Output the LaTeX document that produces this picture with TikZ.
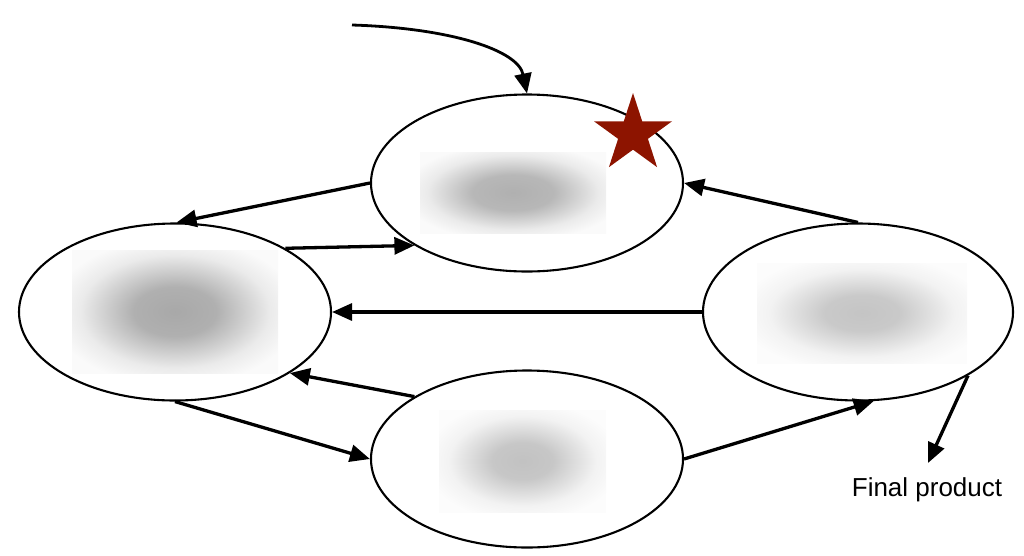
\documentclass[tikz,border=0pt]{standalone}
\usepackage{fontspec}
\setmainfont{Liberation Sans}
\usetikzlibrary{arrows.meta,shapes.geometric}
\definecolor{starred}{RGB}{141,20,0}
\pgfdeclareradialshading{blurTop}{\pgfpoint{0bp}{0bp}}{color(0bp)=(black!31); color(11bp)=(black!28); color(23bp)=(black!8); color(30bp)=(black!2); color(50bp)=(black!2)}
\pgfdeclareradialshading{blurLeft}{\pgfpoint{0bp}{0bp}}{color(0bp)=(black!34); color(10bp)=(black!31); color(23bp)=(black!8); color(30bp)=(black!2); color(50bp)=(black!2)}
\pgfdeclareradialshading{blurRight}{\pgfpoint{0bp}{0bp}}{color(0bp)=(black!23); color(9bp)=(black!21); color(22bp)=(black!5); color(30bp)=(black!1); color(50bp)=(black!1)}
\pgfdeclareradialshading{blurBottom}{\pgfpoint{0bp}{0bp}}{color(0bp)=(black!24); color(9bp)=(black!22); color(22bp)=(black!5); color(30bp)=(black!1); color(50bp)=(black!1)}
\begin{document}
\begin{tikzpicture}[x=1pt,y=-1pt,
  stage/.style={ellipse, draw, line width=2.1pt, minimum width=312pt, minimum height=177pt, inner sep=0pt},
  flow/.style={line width=3.3pt, -{Triangle[length=20pt,width=17pt]}},
  curveflow/.style={line width=2.8pt, -{Triangle[length=20pt,width=17pt]}},
  mark5/.style={star, star points=5, star point ratio=2.618, fill=starred, draw=none, minimum size=82pt, inner sep=0pt}
]
\useasboundingbox (0,0) rectangle (1024,555);
% blurred placeholders
\shade[shading=blurTop] (420,152) rectangle (606,233);
\shade[shading=blurLeft] (72,250) rectangle (278,373);
\shade[shading=blurRight] (757,263) rectangle (967,363);
\shade[shading=blurBottom] (439,410) rectangle (606,512);
% stages
\node[stage] (top) at (527,183) {};
\node[stage] (left) at (175,312) {};
\node[stage, minimum width=310pt] (right) at (858,312) {};
\node[stage] (bottom) at (527,459) {};
% star
\node[mark5] (mark) at (633,134) {};
% input
\coordinate (src) at (352,25);
\draw[curveflow] (src) .. controls (450,28) and (518,50) .. (top.north);
% connectors
\draw[flow] (top.180) -- (left.89);
\draw[flow] (left.30) -- (top.-151);
\draw[flow] (right.90) -- (top.0);
\draw[flow] (right.180) -- (left.0);
\draw[flow] (bottom.151) -- (left.-28);
\draw[flow] (left.-90) -- (bottom.180);
\draw[flow] (bottom.0) -- (right.-80);
% output
\coordinate (fp) at (928,463);
\draw[flow] (right.-30) -- (fp);
\node[anchor=base, inner sep=0pt] (fptext) at (927,496) {\fontsize{26}{30}\selectfont Final product};
\end{tikzpicture}
\end{document}
